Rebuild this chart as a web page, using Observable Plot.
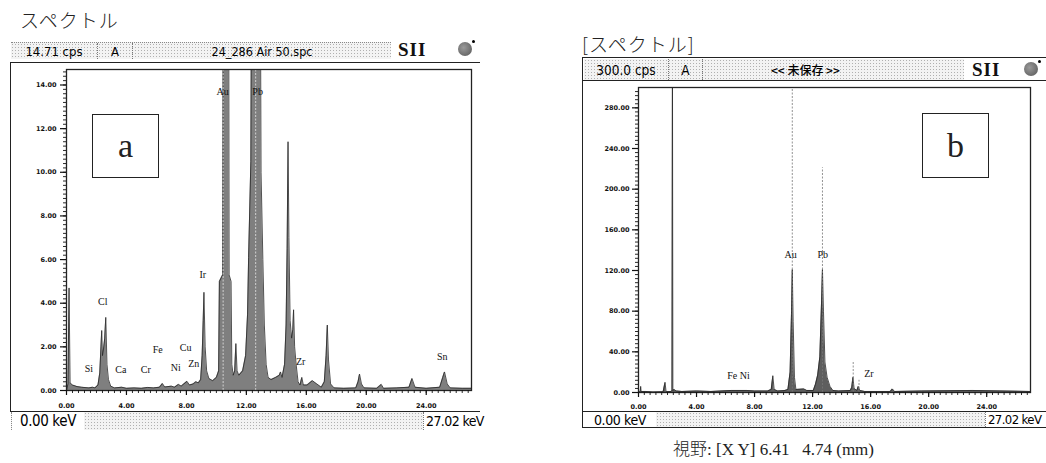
<!DOCTYPE html>
<html>
<head>
<meta charset="utf-8">
<script src="https://cdn.jsdelivr.net/npm/d3@7"></script>
<script src="https://cdn.jsdelivr.net/npm/@observablehq/plot@0.6"></script>
<style>
  body { margin: 0; background: #fff; }
  #page { position: relative; width: 1046px; height: 463px; overflow: hidden; background: #fff; }
  .abs { position: absolute; }
  .jp { font-family: "Noto Sans CJK JP", sans-serif; font-weight: 300; color: #222; }
  .grain { background-color: #f3f3f3; background-image: radial-gradient(#b0b0b0 0.7px, transparent 1px); background-size: 3px 3px; }
  .narrow { font-family: "Liberation Sans Narrow", "DejaVu Sans Condensed", "Liberation Sans", sans-serif; font-stretch: condensed; color: #000; white-space: nowrap; }
  .cell { position: absolute; top: 0; bottom: 0; display: flex; align-items: center; justify-content: center; box-sizing: border-box; white-space: nowrap; }
  .sii { font-family: "Liberation Serif", serif; font-weight: bold; font-size: 19px; color: #111; letter-spacing: 1px; }
  .disc { width: 14px; height: 14px; border-radius: 50%; background: radial-gradient(circle at 40% 40%, #9a9a9a, #555); }
  .dot { width: 3px; height: 3px; border-radius: 50%; background: #000; }
  .tag { border: 1.5px solid #222; background: #fff; box-sizing: border-box; display: flex; align-items: center; justify-content: center; font-family: "Liberation Serif", serif; font-size: 34px; color: #222; }
</style>
</head>
<body>
<div id="page"></div>
<script>
// ---- Spectrum (a): energy (keV) and intensity (cps) ----
const energyA = [0.00,0.10,0.17,0.24,0.40,0.70,1.00,1.50,1.74,1.90,2.10,2.22,2.30,2.35,2.40,2.47,2.55,2.62,2.70,2.80,2.95,3.20,3.69,4.00,4.50,5.00,5.41,5.80,6.20,6.40,6.55,7.00,7.20,7.47,7.65,8.04,8.20,8.45,8.63,8.80,8.95,9.05,9.12,9.17,9.25,9.35,9.50,9.75,10.00,10.15,10.20,10.42,10.48,10.80,10.85,10.98,11.03,11.12,11.22,11.30,11.38,11.50,11.75,11.95,12.08,12.15,12.30,12.40,12.88,12.98,13.10,13.20,13.32,13.45,13.65,13.95,14.20,14.28,14.38,14.55,14.65,14.72,14.78,14.84,14.92,15.02,15.10,15.15,15.22,15.32,15.45,15.58,15.70,15.80,16.05,16.40,16.70,17.00,17.20,17.32,17.40,17.48,17.62,17.85,18.50,19.30,19.45,19.55,19.68,19.85,20.70,21.00,21.15,22.00,22.85,23.05,23.25,24.00,24.90,25.10,25.22,25.40,25.60,26.40,27.02];
const countsA = [0.00,0.30,4.70,0.35,0.25,0.18,0.15,0.12,0.15,0.12,0.25,0.80,2.00,2.75,1.60,1.90,2.40,3.35,1.20,0.50,0.20,0.12,0.15,0.10,0.12,0.10,0.14,0.12,0.15,0.32,0.16,0.20,0.15,0.28,0.20,0.42,0.25,0.30,0.40,0.35,0.50,1.60,3.20,4.50,2.00,0.90,0.55,0.45,0.60,0.90,5.00,5.30,30.0,30.0,5.30,5.00,1.20,0.70,0.90,2.15,0.90,0.70,0.90,1.60,3.50,6.10,10.5,30.0,30.0,10.0,6.00,3.00,1.20,0.60,0.50,0.60,0.70,0.85,0.60,1.20,3.00,6.50,11.40,7.00,3.20,2.40,2.80,3.70,2.00,1.20,0.40,0.25,0.60,0.25,0.25,0.45,0.30,0.15,0.40,1.60,3.00,1.40,0.30,0.12,0.10,0.12,0.40,0.75,0.30,0.12,0.10,0.28,0.10,0.12,0.15,0.55,0.15,0.10,0.15,0.60,0.85,0.30,0.12,0.10,0.10];

// Element labels of spectrum (a): name, energy, label height (cps)
const elemA = ["Si","Cl","Ca","Cr","Fe","Ni","Cu","Zn","Ir","Au","Pb","Zr","Sn"];
const elemKeVA = [1.49,2.42,3.62,5.29,6.09,7.29,7.95,8.49,9.09,10.42,12.75,15.62,25.07];
const elemCpsA = [1.00,4.08,0.96,0.96,1.88,1.05,1.97,1.24,5.28,13.67,13.67,1.33,1.56];
const markerKeVA = [10.45, 12.62];

// ---- Spectrum (b) ----
const energyB = [0.00,0.12,0.15,0.18,0.50,1.00,1.70,1.83,1.90,2.25,2.31,2.34,2.37,2.45,2.60,3.00,4.00,5.00,6.40,7.47,8.00,8.90,9.15,9.26,9.35,9.60,10.10,10.30,10.45,10.55,10.60,10.66,10.75,10.85,11.40,11.60,12.05,12.20,12.35,12.50,12.62,12.68,12.75,12.85,13.00,13.20,13.40,13.80,14.60,14.70,14.78,14.86,15.05,15.15,15.25,15.60,16.50,17.35,17.50,17.65,19.50,23.00,27.02];
const countsB = [0,1,6,1,1,0.5,0.8,10,0.8,1,2,330,2,3,1.5,1,1.5,1,2,2,1.5,1.5,3,16.5,3,1.5,2,3,20,80,121,70,15,3,3.5,2,2,8,17,35,90,121,80,30,15,6,2,1.5,2,5,15,4,2,6,2,1,1,1,3.5,1,1.5,2,1];

const elemB = ["Au","Pb","Fe Ni","Zr"];
const elemKeVB = [10.48,12.70,6.89,15.88];
const elemCpsB = [135,135,16.5,18.5];
const markerKeVB = [10.60, 12.68, 14.80, 15.20];
const markerTopB = [300, 221, 31, 12];

// ---- header / footer texts ----
const headerA = ["14.71 cps", "A", "24_286 Air 50.spc"];
const headerB = ["300.0 cps", "A", "<< 未保存 >>"];
const rangeText = ["0.00 keV", "27.02 keV"];

const fmt = d3.format(".2f");
const page = document.getElementById("page");

function el(cls, css, html) {
  const d = document.createElement("div");
  d.className = "abs " + (cls || "");
  Object.assign(d.style, css);
  if (html != null) d.textContent = html;
  page.appendChild(d);
  return d;
}

function cell(parent, css, text) {
  const c = document.createElement("div");
  c.className = "cell";
  Object.assign(c.style, css);
  c.textContent = text;
  parent.appendChild(c);
  return c;
}

function spectrum(opts) {
  const rows = opts.energy.map((e, i) => ({keV: e, cps: opts.counts[i]}));
  const labels = opts.names.map((n, i) => ({name: n, keV: opts.labelKeV[i], cps: opts.labelCps[i]}));
  const markers = opts.markerKeV.map((e, i) => ({keV: e, top: opts.markerTop ? opts.markerTop[i] : opts.yMax}));
  return Plot.plot({
    width: opts.width, height: opts.height,
    marginLeft: opts.ml, marginTop: opts.mt, marginRight: opts.mr, marginBottom: opts.mb,
    x: {domain: [0, 27.02], label: null},
    y: {domain: [0, opts.yMax], label: null},
    style: {background: "transparent", fontFamily: "DejaVu Sans, sans-serif", fontSize: "6.5px", fontWeight: "bold", color: "#111", overflow: "visible"},
    marks: [
      Plot.areaY(rows, {x: "keV", y: "cps", fill: opts.fill, clip: true}),
      Plot.lineY(rows, {x: "keV", y: "cps", stroke: "#262626", strokeWidth: 0.8, clip: true}),
      Plot.ruleX(markers, {x: "keV", y1: 0, y2: "top", stroke: opts.markerStroke, strokeWidth: 0.8, strokeDasharray: "2,1.5", clip: true}),
      Plot.frame({stroke: "#222", strokeWidth: 1.3}),
      Plot.axisY({ticks: d3.range(0, opts.yMax, opts.yMinor), tickSize: 3, tickFormat: () => "", label: null, strokeWidth: 0.9}),
      Plot.axisY({ticks: d3.range(0, opts.yMax, opts.yMajor), tickSize: 6, tickPadding: opts.yPad, tickFormat: fmt, label: null, strokeWidth: 1.2}),
      Plot.axisX({ticks: d3.range(0, 27.02, 0.4), tickSize: 3, tickFormat: () => "", label: null, strokeWidth: 0.9}),
      Plot.axisX({ticks: d3.range(0, 27, 4), tickSize: 5, tickPadding: opts.xPad, tickFormat: fmt, label: null, strokeWidth: 1.2}),
      Plot.text(labels, {x: "keV", y: "cps", text: "name", fontFamily: "Liberation Serif, serif", fontSize: 10, fontWeight: "normal", fill: "#111"})
    ]
  });
}

// ================= Panel (a) =================
el("jp", {left: "20px", top: "6px", fontSize: "19px", letterSpacing: "1px"}, "スペクトル");

const hA = el("grain narrow", {left: "11px", top: "42px", width: "380px", height: "17px", borderTop: "1px dotted #888", boxSizing: "border-box"});
[[0, 86], [86, 121], [121, 380]].forEach(([a, b], i) => {
  cell(hA, {left: a + "px", width: (b - a) + "px", fontSize: i === 2 ? "12.5px" : "13px", borderLeft: i ? "1px dotted #777" : "none"}, headerA[i]);
});
el("sii", {left: "398px", top: "39px"}, "SII");
el("disc", {left: "458px", top: "42px"});
el("dot", {left: "472px", top: "40px"});

// chart frame
el("", {left: "10px", top: "62px", width: "470px", height: "350px", borderLeft: "1.5px solid #222", borderTop: "1.5px solid #222", borderBottom: "1.5px solid #222", boxSizing: "border-box"});
const chartA = spectrum({
  energy: energyA, counts: countsA, names: elemA, labelKeV: elemKeVA, labelCps: elemCpsA,
  markerKeV: markerKeVA, yMax: 14.71, yMajor: 2, yMinor: 0.2,
  width: 467, height: 350, ml: 55, mt: 7, mr: 7, mb: 22, yPad: 4, xPad: 8,
  fill: "#7f7f7f", markerStroke: "#e6e6e6"
});
chartA.style.position = "absolute"; chartA.style.left = "11px"; chartA.style.top = "62px";
page.appendChild(chartA);
el("tag", {left: "92px", top: "114px", width: "67px", height: "64px"}, "a");

const fA = el("grain narrow", {left: "11px", top: "412px", width: "470px", height: "18px", borderLeft: "1px dotted #888"});
cell(fA, {left: "0px", width: "72px", fontSize: "15px", letterSpacing: "-0.4px", background: "#fff"}, rangeText[0]);
cell(fA, {left: "411px", width: "59px", fontSize: "14px", letterSpacing: "-0.6px", background: "#fff", borderLeft: "1px dotted #777", justifyContent: "flex-start", paddingLeft: "2px", overflow: "visible"}, rangeText[1]);

// ================= Panel (b) =================
el("jp", {left: "582px", top: "30px", fontSize: "19px", letterSpacing: "1px"}, "[スペクトル]");

el("", {left: "582px", top: "57px", width: "480px", height: "371px", border: "1.5px solid #222", boxSizing: "border-box"});
const hB = el("grain narrow", {left: "584px", top: "59px", width: "380px", height: "21px"});
[[0, 84], [84, 118], [118, 380]].forEach(([a, b], i) => {
  const c = cell(hB, {left: a + "px", width: (b - a) + "px", fontSize: i === 2 ? "12px" : "13.5px", borderLeft: i ? "1px dotted #777" : "none"}, headerB[i]);
  if (i === 2) Object.assign(c.style, {justifyContent: "flex-start", paddingLeft: "68px", fontFamily: "Noto Sans CJK JP, sans-serif", fontWeight: "500"});
});
el("", {left: "583px", top: "80px", width: "463px", height: "0px", borderTop: "1.5px solid #222"});
el("sii", {left: "972px", top: "59px"}, "SII");
el("disc", {left: "1024px", top: "62px"});
el("dot", {left: "1038px", top: "60px"});

const chartB = spectrum({
  energy: energyB, counts: countsB, names: elemB, labelKeV: elemKeVB, labelCps: elemCpsB,
  markerKeV: markerKeVB, markerTop: markerTopB, yMax: 300, yMajor: 40, yMinor: 4,
  width: 463, height: 331, ml: 55, mt: 6, mr: 16, mb: 20, yPad: 3, xPad: 7,
  fill: "#5e5e5e", markerStroke: "#777"
});
chartB.style.position = "absolute"; chartB.style.left = "583px"; chartB.style.top = "81px";
page.appendChild(chartB);
el("tag", {left: "922px", top: "113px", width: "67px", height: "65px"}, "b");

el("", {left: "583px", top: "411px", width: "463px", height: "0px", borderTop: "1.5px solid #222"});
const fB = el("grain narrow", {left: "584px", top: "412px", width: "462px", height: "15px"});
cell(fB, {left: "0px", width: "72px", fontSize: "14px", letterSpacing: "-0.4px", background: "#fff"}, rangeText[0]);
cell(fB, {left: "401px", width: "61px", fontSize: "13px", letterSpacing: "-0.6px", background: "#fff", borderLeft: "1px dotted #777", justifyContent: "flex-start", paddingLeft: "2px"}, rangeText[1]);

const cap = el("", {left: "673px", top: "435px", fontSize: "17px", color: "#222", fontFamily: "Liberation Serif, serif", whiteSpace: "pre"});
cap.innerHTML = '<span style="font-family:Noto Sans CJK JP;font-weight:300">視野</span>: [X Y] 6.41   4.74 (mm)';
</script>
</body>
</html>
